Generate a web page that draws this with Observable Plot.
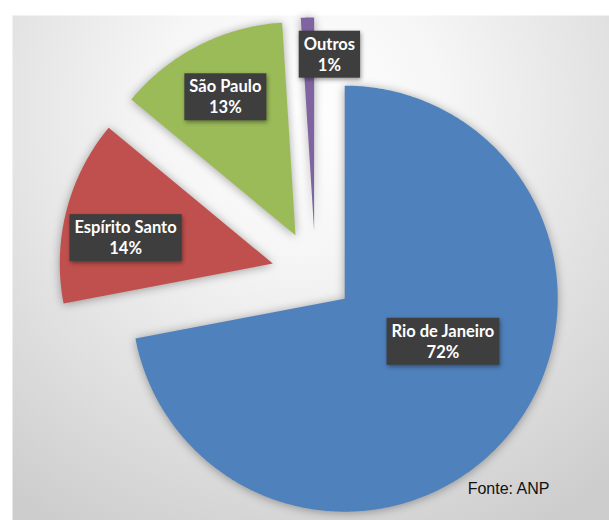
<!DOCTYPE html>
<html>
<head>
<meta charset="utf-8">
<script src="https://cdn.jsdelivr.net/npm/d3@7"></script>
<script src="https://cdn.jsdelivr.net/npm/@observablehq/plot@0.6"></script>
<style>
  html, body { margin: 0; padding: 0; background: #ffffff; }
  #chart svg { display: block; }
</style>
</head>
<body>
<div id="chart"></div>
<script>
// ---- data ----
const categories = ["Rio de Janeiro", "Espírito Santo", "São Paulo", "Outros"];
const shares = [72, 14, 13, 1];
const colors = ["#4F81BD", "#C0504D", "#9BBB59", "#8064A2"];
const source = "Fonte: ANP";

// ---- layout (pie radius = 1 unit) ----
const explode = [0.178, 0.207, 0.207, 0.207];
const labelAngleDeg = [117.4, 281.2, 333.2, 3.6];
const labelRadius = [0.674, 0.909, 0.9386, 1.0397];

const pie = d3.pie().sort(null).startAngle(0).endAngle(2 * Math.PI)(shares);

const slicePts = [];
pie.forEach((p, i) => {
  const mid = (p.startAngle + p.endAngle) / 2;
  const ex = explode[i] * Math.sin(mid), ey = explode[i] * Math.cos(mid);
  const cat = categories[i];
  slicePts.push({cat, u: ex, v: ey});
  const n = Math.max(4, Math.ceil((p.endAngle - p.startAngle) / 0.01));
  for (let k = 0; k <= n; k++) {
    const a = p.startAngle + (p.endAngle - p.startAngle) * k / n;
    slicePts.push({cat, u: ex + Math.sin(a), v: ey + Math.cos(a)});
  }
  slicePts.push({cat, u: ex, v: ey});
});

const labels = categories.map((c, i) => {
  const a = labelAngleDeg[i] * Math.PI / 180;
  return {
    text: `${c}\n${shares[i]}%`,
    u: labelRadius[i] * Math.sin(a),
    v: labelRadius[i] * Math.cos(a)
  };
});

const chart = Plot.plot({
  width: 609,
  height: 520,
  marginLeft: 12,
  marginTop: 15,
  marginRight: 0,
  marginBottom: 0,
  x: {domain: [-1.4225, 1.3803], axis: null},
  y: {domain: [-1.1549, 1.2160], axis: null},
  color: {domain: categories, range: colors},
  style: {background: "#ffffff", overflow: "visible"},
  marks: [
    Plot.frame({fill: "url(#bgGrad)", stroke: "none"}),
    Plot.line(slicePts, {x: "u", y: "v", z: "cat", fill: "cat", stroke: "none", curve: "linear"}),
    Plot.text(labels, {
      x: "u", y: "v", text: "text",
      fill: "#ffffff", fontWeight: "bold", fontSize: 16.5,
      fontFamily: "Lato, 'DejaVu Sans', sans-serif",
      lineHeight: 1.27, lineAnchor: "middle", textAnchor: "middle"
    }),
    Plot.text([source], {
      frameAnchor: "bottom-right", textAnchor: "end", lineAnchor: "bottom",
      dx: -60, dy: -27, fill: "#111111", fontSize: 16,
      fontFamily: "'Liberation Sans', Arial, sans-serif"
    })
  ]
});

document.getElementById("chart").appendChild(chart);

// background gradient + shadows
const svg = d3.select(chart);
const defs = svg.insert("defs", ":first-child");
const grad = defs.append("radialGradient")
  .attr("id", "bgGrad").attr("gradientUnits", "userSpaceOnUse")
  .attr("cx", 300).attr("cy", 110).attr("r", 480);
grad.append("stop").attr("offset", 0).attr("stop-color", "#ffffff");
grad.append("stop").attr("offset", 0.3).attr("stop-color", "#f6f6f6");
grad.append("stop").attr("offset", 1).attr("stop-color", "#cdcdcd");

svg.selectAll('g[aria-label="line"]')
  .style("filter", "drop-shadow(0px 1px 5px rgba(0,0,0,0.35))");

// dark label boxes behind the slice labels
const textGroups = chart.querySelectorAll('g[aria-label="text"]');
const labelGroup = textGroups[0];
labelGroup.querySelectorAll("text").forEach(t => {
  const b = t.getBBox();
  const r = document.createElementNS("http://www.w3.org/2000/svg", "rect");
  r.setAttribute("x", b.x - 5);
  r.setAttribute("y", b.y - 3);
  r.setAttribute("width", b.width + 10);
  r.setAttribute("height", b.height + 6);
  r.setAttribute("fill", "#3e3e3e");
  const tr = t.getAttribute("transform");
  if (tr) r.setAttribute("transform", tr);
  r.style.filter = "drop-shadow(1px 2px 2px rgba(0,0,0,0.4))";
  labelGroup.insertBefore(r, t);
});
</script>
</body>
</html>
